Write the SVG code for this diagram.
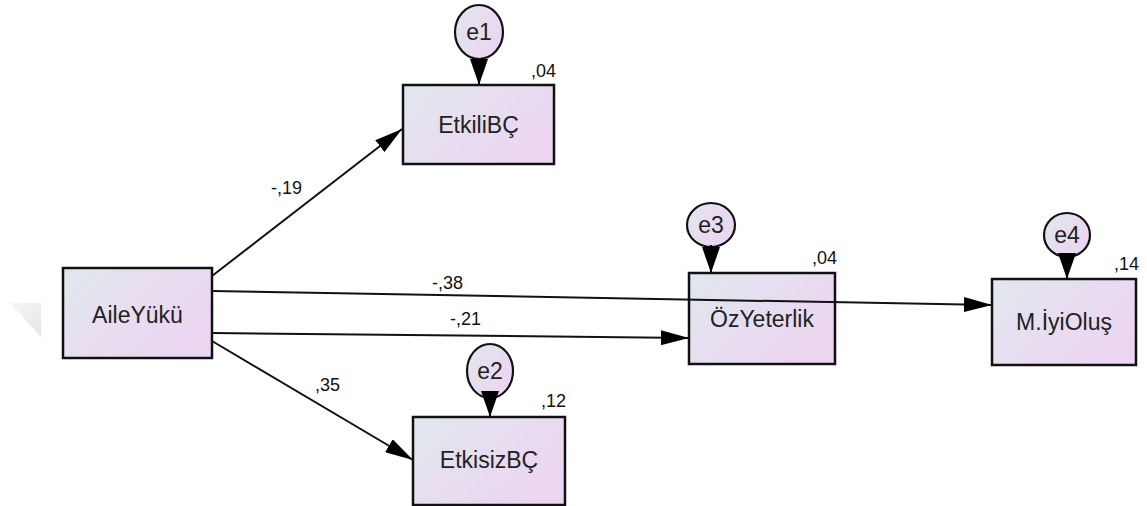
<svg xmlns="http://www.w3.org/2000/svg" width="1147" height="506" viewBox="0 0 1147 506">
  <defs>
    <linearGradient id="fillGrad" x1="0" y1="0" x2="1" y2="0.6">
      <stop offset="0" stop-color="#e1e7ee"/>
      <stop offset="1" stop-color="#ecd5f1"/>
    </linearGradient>
    <linearGradient id="markGrad" x1="0" y1="0" x2="1" y2="1">
      <stop offset="0" stop-color="#f6f6f6"/>
      <stop offset="1" stop-color="#e6e6e6"/>
    </linearGradient>
    <marker id="arrow" viewBox="0 0 28 15" refX="28" refY="7.5" markerWidth="28" markerHeight="15" markerUnits="userSpaceOnUse" orient="auto">
      <path d="M0,0 L28,7.5 L0,15 Z" fill="#000"/>
    </marker>
    <marker id="errArrow" viewBox="0 0 26 18" refX="26" refY="9" markerWidth="26" markerHeight="18" markerUnits="userSpaceOnUse" orient="auto">
      <path d="M0,0 L26,9 L0,18 Z" fill="#000"/>
    </marker>
  </defs>
  <style>
    .box { fill: url(#fillGrad); stroke: #111; stroke-width: 2.5; }
    .err { fill: url(#fillGrad); stroke: #111; stroke-width: 2.2; }
    .name { font-family: "Liberation Sans", Arial, sans-serif; font-size: 23px; fill: #222; text-anchor: middle; }
    .coef { font-family: "Liberation Sans", Arial, sans-serif; font-size: 18px; fill: #111; }
    .path { stroke: #111; stroke-width: 2; fill: none; marker-end: url(#arrow); }
    .errpath { stroke: #111; stroke-width: 2; fill: none; marker-end: url(#errArrow); }
  </style>

  <rect width="1147" height="506" fill="#fff"/>
  <polygon points="10,303 41,303 41,337" fill="url(#markGrad)"/>

  <g id="AileYuku">
    <rect class="box" x="63" y="268" width="149" height="90"/>
    <text class="name" x="137.5" y="323">AileYükü</text>
  </g>

  <g id="EtkiliBC">
    <rect class="box" x="403" y="85" width="151" height="79"/>
    <text class="name" x="478.5" y="133">EtkiliBÇ</text>
    <text class="coef" x="531" y="77">,04</text>
  </g>

  <g id="e1">
    <ellipse class="err" cx="479" cy="32" rx="24" ry="27"/>
    <text class="name" x="479" y="40">e1</text>
  </g>

  <g id="EtkisizBC">
    <rect class="box" x="413" y="417" width="152" height="88"/>
    <text class="name" x="489" y="468">EtkisizBÇ</text>
    <text class="coef" x="541" y="407">,12</text>
  </g>

  <g id="e2">
    <ellipse class="err" cx="490" cy="371" rx="23" ry="27"/>
    <text class="name" x="490" y="379">e2</text>
  </g>

  <g id="OzYeterlik">
    <rect class="box" x="689" y="273" width="146" height="91"/>
    <text class="name" x="762" y="327">ÖzYeterlik</text>
    <text class="coef" x="812" y="264">,04</text>
  </g>

  <g id="e3">
    <ellipse class="err" cx="711" cy="225" rx="24" ry="22"/>
    <text class="name" x="711" y="233">e3</text>
  </g>

  <g id="MIyiOlus">
    <rect class="box" x="992" y="279" width="144" height="86"/>
    <text class="name" x="1064" y="330">M.İyiOluş</text>
    <text class="coef" x="1114" y="270">,14</text>
  </g>

  <g id="e4">
    <ellipse class="err" cx="1067" cy="235" rx="23" ry="22"/>
    <text class="name" x="1067" y="243">e4</text>
  </g>

  <!-- regression paths, drawn on top so the long path stays visible across ÖzYeterlik -->
  <g id="connectors">
    <line class="path" x1="212" y1="276" x2="402" y2="129"/>
    <line class="path" x1="212" y1="291" x2="992" y2="305"/>
    <line class="path" x1="212" y1="333" x2="689" y2="338"/>
    <line class="path" x1="212" y1="341" x2="413" y2="460"/>
    <line class="errpath" x1="479" y1="58" x2="479" y2="85"/>
    <line class="errpath" x1="490" y1="395" x2="490" y2="417"/>
    <line class="errpath" x1="711" y1="245" x2="711" y2="273"/>
    <line class="errpath" x1="1067" y1="255" x2="1067" y2="279"/>
    <text class="coef" x="271" y="194">-,19</text>
    <text class="coef" x="432" y="289">-,38</text>
    <text class="coef" x="450" y="325">-,21</text>
    <text class="coef" x="315" y="391">,35</text>
  </g>
</svg>
